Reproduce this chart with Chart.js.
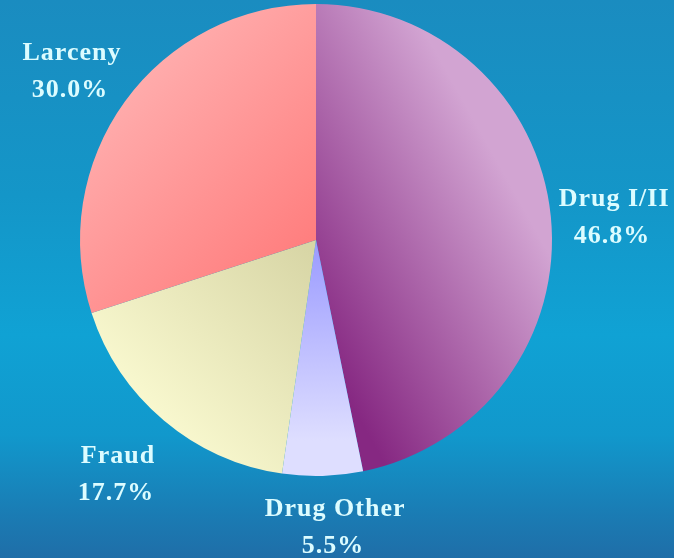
<!DOCTYPE html>
<html>
<head>
<meta charset="utf-8">
<script src="https://cdn.jsdelivr.net/npm/chart.js@4/dist/chart.umd.min.js"></script>
<style>
  html, body { margin: 0; padding: 0; }
  body {
    width: 674px; height: 558px; overflow: hidden;
    background: linear-gradient(to bottom, #1a8cc0 0%, #1496c8 35%, #10a2d4 60%, #1198cc 78%, #1a7cb4 92%, #1f6ea8 100%);
  }
  #wrap { position: relative; width: 674px; height: 558px; }
</style>
</head>
<body>
<div id="wrap"><canvas id="pieChart"></canvas></div>
<script>
// crime categories, clockwise from 12 o'clock
const categories = ['Drug I/II', 'Drug Other', 'Fraud', 'Larceny'];
const shares = [46.8, 5.5, 17.7, 30.0];
const shareLabels = ['46.8%', '5.5%', '17.7%', '30.0%'];

// label anchors relative to pie centre, in units of radius (first line baseline)
const labelSpots = [[1.263, -0.144], [0.081, 1.169], [-0.839, 0.945], [-1.034, -0.763]];

// gradient line per slice: [x0, y0, x1, y1] in radius units, plus colours
const sliceFills = [
  { line: [0.14, 0.68, 1.05, 0.17], from: '#862882', to: '#d2a4d2' },
  { line: [0, 0, 0, 0.85], from: '#9a9aff', to: '#dedeff' },
  { line: [-0.03, 0.04, -0.78, 0.76], from: '#d8d6a6', to: '#fbfbd2' },
  { line: [0, 0, -0.72, -0.72], from: '#ff7e7e', to: '#ffacac' }
];

function sliceColor(ctx) {
  const chart = ctx.chart;
  const f = sliceFills[ctx.dataIndex];
  const area = chart.chartArea;
  if (!area) return f.from;
  const cx = (area.left + area.right) / 2, cy = (area.top + area.bottom) / 2;
  const r = Math.min(area.right - area.left, area.bottom - area.top) / 2;
  const g = chart.ctx.createLinearGradient(cx + f.line[0] * r, cy + f.line[1] * r, cx + f.line[2] * r, cy + f.line[3] * r);
  g.addColorStop(0, f.from);
  g.addColorStop(1, f.to);
  return g;
}

const labelPlugin = {
  id: 'sliceLabels',
  afterDatasetsDraw(chart) {
    const ctx = chart.ctx;
    const arcs = chart.getDatasetMeta(0).data;
    ctx.save();
    ctx.fillStyle = '#dcfcff';
    ctx.font = 'bold 26px "Liberation Serif", "Times New Roman", serif';
    ctx.textAlign = 'center';
    ctx.textBaseline = 'alphabetic';
    if ('letterSpacing' in ctx) ctx.letterSpacing = '1px';
    arcs.forEach((arc, i) => {
      const r = arc.outerRadius;
      const x = arc.x + labelSpots[i][0] * r;
      const y = arc.y + labelSpots[i][1] * r;
      ctx.fillText(categories[i], x, y);
      ctx.fillText(shareLabels[i], x - 2, y + 37);
    });
    ctx.restore();
  }
};

const ctx = document.getElementById('pieChart').getContext('2d');
new Chart(ctx, {
  type: 'pie',
  data: {
    labels: categories,
    datasets: [{
      data: shares,
      backgroundColor: sliceColor,
      borderWidth: 0
    }]
  },
  options: {
    responsive: true,
    maintainAspectRatio: false,
    animation: false,
    layout: { padding: { left: 80, right: 122, top: 4, bottom: 82 } },
    plugins: {
      legend: { display: false },
      tooltip: { enabled: false }
    }
  },
  plugins: [labelPlugin]
});
</script>
</body>
</html>
